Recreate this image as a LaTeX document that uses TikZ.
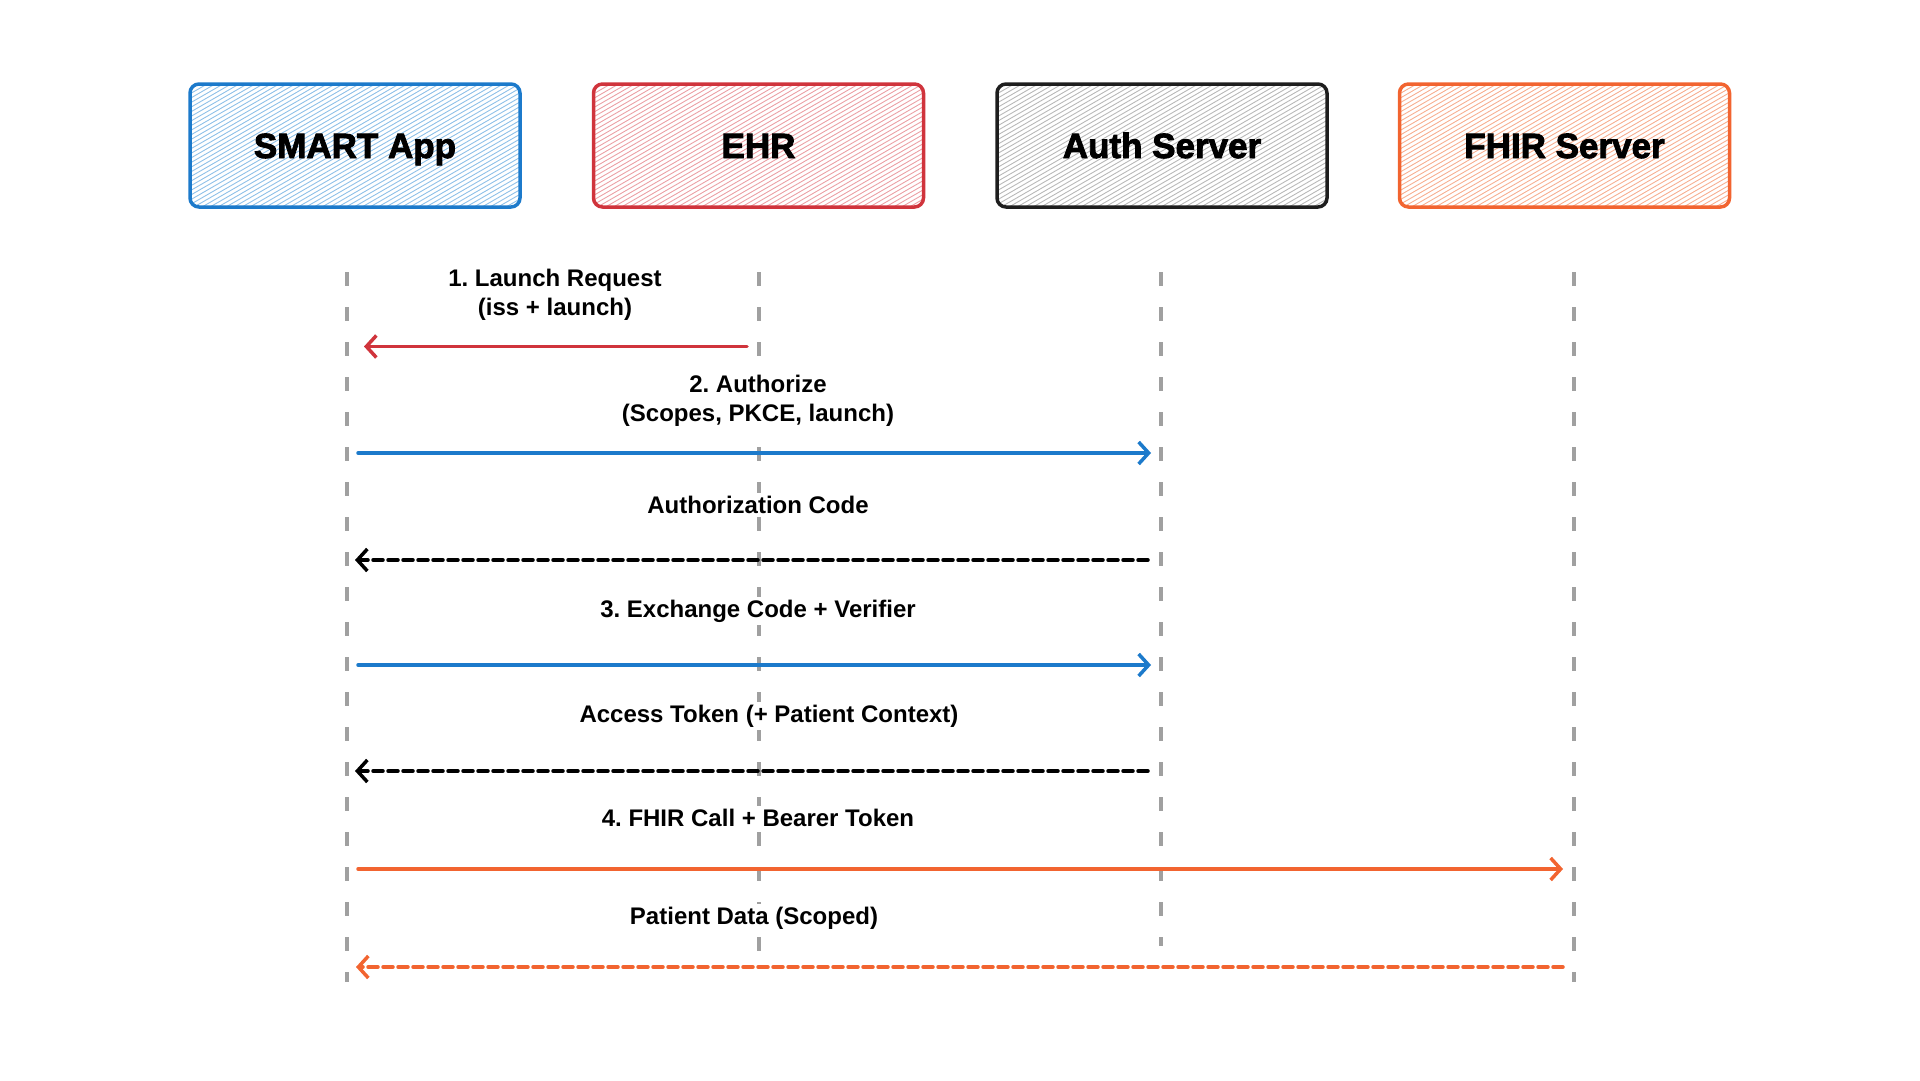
\documentclass[tikz,border=0pt]{standalone}
\usepackage{fontspec}
\setmainfont{Liberation Sans}
\newfontfamily\titlefont[FakeBold=2.5]{Liberation Sans Bold}
\usetikzlibrary{arrows.meta}
\definecolor{cblue}{HTML}{1C7ACB}
\definecolor{cred}{HTML}{D0343C}
\definecolor{cblack}{HTML}{1E1E1E}
\definecolor{corange}{HTML}{F26430}
\definecolor{hblue}{HTML}{8EC0E8}
\definecolor{hred}{HTML}{EBA0A5}
\definecolor{hgray}{HTML}{B8B8B8}
\definecolor{horange}{HTML}{F7AE90}
\definecolor{lgray}{HTML}{A0A0A0}
\tikzset{
  actor/.style args={#1/#2}{draw=#1, line width=3.5pt, rounded corners=9pt,
    minimum width=330pt, minimum height=123pt, inner sep=0pt,
    text height=25pt, text depth=0pt,
    font=\titlefont\fontsize{35}{40}\selectfont, text=black,
    path picture={\foreach \i in {-300,-292,...,340}{
      \draw[#2, line width=0.9pt] ([xshift=\i pt]path picture bounding box.south west) -- ++(220pt,127pt);}}},
  lifeline/.style={draw=lgray, line width=4pt, dash pattern=on 14pt off 21pt},
  msg/.style={font=\bfseries\fontsize{24}{28.5}\selectfont, align=center, inner sep=3pt, fill=white},
  call/.style={line width=3.5pt, line cap=round, -{Straight Barb[length=10pt,width=22pt]}},
  reply/.style={call, dash pattern=on 10pt off 5pt},
}
\begin{document}
\frenchspacing
\begin{tikzpicture}[x=1pt,y=-1pt]
\useasboundingbox (0,0) rectangle (1920,1080);
% actors
\node[actor=cblue/hblue] (app) at (355,145.5) {SMART App};
\node[actor=cred/hred] (ehr) at (758.5,145.5) {EHR};
\node[actor=cblack/hgray] (auth) at (1162,145.5) {Auth Server};
\node[actor=corange/horange] (fhir) at (1564.5,145.5) {FHIR Server};
% lifelines
\coordinate (l1t) at (346.5,272); \coordinate (l1b) at (346.5,982);
\coordinate (l2t) at (759,272);   \coordinate (l2b) at (759,958);
\coordinate (l3t) at (1161,272);  \coordinate (l3b) at (1161,946);
\coordinate (l4t) at (1573.5,272);\coordinate (l4b) at (1573.5,982);
\draw[lifeline] (l1t) -- (l1b);
\draw[lifeline] (l2t) -- (l2b);
\draw[lifeline] (l3t) -- (l3b);
\draw[lifeline] (l4t) -- (l4b);
% message endpoints
\coordinate (m1s) at (747,346.5);  \coordinate (m1e) at (364,346.5);
\coordinate (m2s) at (358,453);    \coordinate (m2e) at (1151,453);
\coordinate (m3s) at (1148,560);   \coordinate (m3e) at (355,560);
\coordinate (m4s) at (358,665);    \coordinate (m4e) at (1151,665);
\coordinate (m5s) at (1148,771);   \coordinate (m5e) at (355,771);
\coordinate (m6s) at (358,869);    \coordinate (m6e) at (1563,869);
\coordinate (m7s) at (1563,967);   \coordinate (m7e) at (356,967);
% arrows
\draw[call, draw=cred] (m1s) -- (m1e);
\draw[call, draw=cblue] (m2s) -- (m2e);
\draw[reply, draw=black] (m3s) -- (m3e);
\draw[call, draw=cblue] (m4s) -- (m4e);
\draw[reply, draw=black] (m5s) -- (m5e);
\draw[call, draw=corange] (m6s) -- (m6e);
\draw[reply, draw=corange] (m7s) -- (m7e);
% labels
\node[msg] (t1) at (555,295) {1. Launch Request\\(iss + launch)};
\node[msg] (t2) at (758,401) {2. Authorize\\(Scopes, PKCE, launch)};
\node[msg] (t3) at (758,505) {Authorization Code};
\node[msg] (t4) at (758,611) {3. Exchange Code + Verifier};
\node[msg] (t5) at (769,716) {Access Token (+ Patient Context)};
\node[msg] (t6) at (758,818) {4. FHIR Call + Bearer Token};
\node[msg] (t7) at (754,918) {Patient Data (Scoped)};
\end{tikzpicture}
\end{document}
